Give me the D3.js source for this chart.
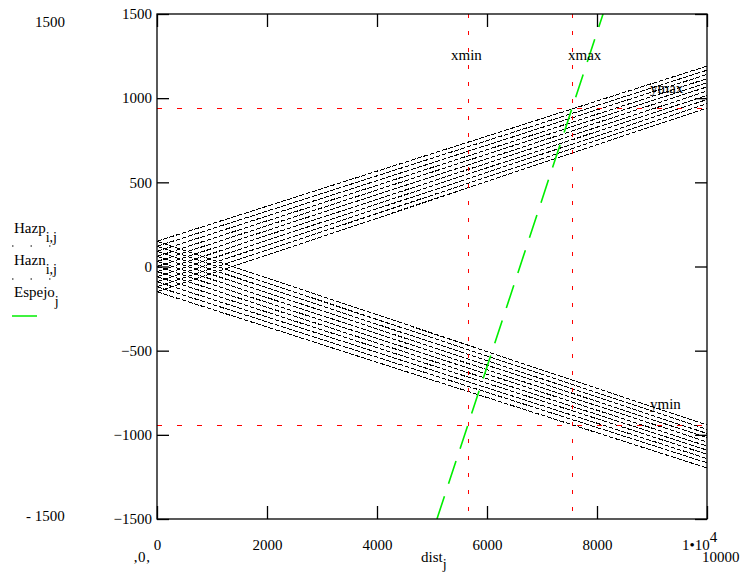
<!DOCTYPE html>
<html><head><meta charset="utf-8">
<script src="https://cdn.jsdelivr.net/npm/d3@7"></script>
<style>
body{margin:0;background:#fff;}
svg text{font-family:"Liberation Serif","Times New Roman","DejaVu Serif",serif !important;font-size:15px;fill:#000;}
</style></head>
<body>
<svg id="c" width="741" height="574"></svg>
<script>
// ---- data ----
const distRange = [0, 10000];
const xTicks = [0, 2000, 4000, 6000, 8000, 10000];
const yTicks = [-1500, -1000, -500, 0, 500, 1000, 1500];
// Hazp lines: value at dist 0 and at dist 10000
const hazpStart = [-150, -120, -90, -60, -30, 0, 30, 60, 90, 120, 150];
const hazpEnd   = [942, 967, 992, 1017, 1042, 1067, 1091, 1116, 1141, 1166, 1191];
// Hazn lines
const haznStart = [150, 120, 90, 60, 30, 0, -30, -60, -90, -120, -150];
const haznEnd   = [-942, -967, -992, -1017, -1042, -1067, -1091, -1116, -1141, -1166, -1197];
// Espejo (mirror) line
const espejoDist = [5090, 8110];
const espejoVal  = [-1500, 1500];
// limits
const xminVal = 5650, xmaxVal = 7540, ymaxVal = 940, yminVal = -940;

const FONT = '"Liberation Serif","Times New Roman","DejaVu Serif",serif';
const svg = d3.select("#c");
const L = 157, R = 707, T = 14, B = 519;
const x = d3.scaleLinear().domain([0, 10000]).range([L, R]);
const y = d3.scaleLinear().domain([-1500, 1500]).range([B, T]);

svg.append("defs").append("clipPath").attr("id","clip")
  .append("rect").attr("x",L).attr("y",T).attr("width",R-L).attr("height",B-T);
const g = svg.append("g").attr("clip-path","url(#clip)");

const line = d3.line().x(d=>x(d[0])).y(d=>y(d[1]));

// bands
hazpStart.forEach((v,i)=>{
  g.append("path").attr("d", line([[distRange[0], v],[distRange[1], hazpEnd[i]]]))
   .attr("fill","none").attr("stroke","#000").attr("stroke-width",1)
   .attr("stroke-dasharray","5,1.5").attr("shape-rendering","crispEdges");
});
haznStart.forEach((v,i)=>{
  g.append("path").attr("d", line([[distRange[0], v],[distRange[1], haznEnd[i]]]))
   .attr("fill","none").attr("stroke","#000").attr("stroke-width",1)
   .attr("stroke-dasharray","5,1.5").attr("shape-rendering","crispEdges");
});

// red limit lines
const red = "#ff0000";
const rx = v => Math.round(x(v)) + 0.5, ry = v => Math.round(y(v)) + 0.5;
g.append("line").attr("x1",L).attr("x2",R).attr("y1",ry(ymaxVal)).attr("y2",ry(ymaxVal))
 .attr("stroke",red).attr("stroke-dasharray","5,15").attr("shape-rendering","crispEdges");
g.append("line").attr("x1",L).attr("x2",R).attr("y1",ry(yminVal)).attr("y2",ry(yminVal))
 .attr("stroke",red).attr("stroke-dasharray","5,15").attr("shape-rendering","crispEdges");
g.append("line").attr("x1",rx(xminVal)).attr("x2",rx(xminVal)).attr("y1",T).attr("y2",B)
 .attr("stroke",red).attr("stroke-dasharray","4,13").attr("shape-rendering","crispEdges");
g.append("line").attr("x1",rx(xmaxVal)).attr("x2",rx(xmaxVal)).attr("y1",T).attr("y2",B)
 .attr("stroke",red).attr("stroke-dasharray","4,13").attr("shape-rendering","crispEdges");

// green mirror line
g.append("path").attr("d", line(espejoDist.map((d,i)=>[d, espejoVal[i]])))
 .attr("fill","none").attr("stroke","#00ee00").attr("stroke-width",1.6).attr("stroke-dasharray","24,13");

// frame
svg.append("rect").attr("x",L).attr("y",T).attr("width",R-L).attr("height",B-T)
  .attr("fill","none").attr("stroke","#000").attr("stroke-width",1.3);

// axes
const fmt = d => d3.format("")(d);
const ax = svg.append("g").attr("transform",`translate(0,${B})`)
  .call(d3.axisBottom(x).tickValues(xTicks).tickSize(-13).tickPadding(20).tickFormat(fmt));
const axT = svg.append("g").attr("transform",`translate(0,${T})`)
  .call(d3.axisTop(x).tickValues(xTicks).tickSize(-13).tickFormat(""));
const ay = svg.append("g").attr("transform",`translate(${L},0)`)
  .call(d3.axisLeft(y).tickValues(yTicks).tickSize(-12).tickPadding(4).tickFormat(fmt));
const ayR = svg.append("g").attr("transform",`translate(${R},0)`)
  .call(d3.axisRight(y).tickValues(yTicks).tickSize(-12).tickFormat(""));
[ax,axT,ay,ayR].forEach(a=>{
  a.attr("font-family",FONT).attr("font-size",15);
  a.select(".domain").remove();
  a.selectAll("line").attr("stroke","#000").attr("stroke-width",1.3);
  a.selectAll("text").attr("font-family",FONT).attr("font-size",15).attr("fill","#000");
});
ay.selectAll("text").attr("x",-5);
// last x tick label 1•10^4
ax.selectAll(".tick").filter(d=>d===10000).select("text").each(function(){
  const t = d3.select(this); t.text(null).attr("x",-8);
  t.append("tspan").text("1•10");
  t.append("tspan").attr("dy",-8).attr("font-size",15).text("4");
});

// outer labels
function txt(xp, yp, s, anchor){ return svg.append("text").attr("x",xp).attr("y",yp).attr("font-family",FONT).attr("font-size",15).attr("text-anchor",anchor||"start").text(s); }
txt(35, 27, "1500");
txt(26, 521, "- 1500");
txt(133, 562, "‚0‚");
txt(702, 562, "10000");
txt(451, 60, "xmin");
txt(568, 60, "xmax");
txt(650, 93, "ymax");
txt(650, 409, "ymin");
// dist_j
const dt = txt(421, 562, "dist");
dt.append("tspan").attr("dy",7).attr("font-size",14).text("j");

// legend
function sub(xp, yp, main, s){
  const t = txt(xp, yp, main);
  t.append("tspan").attr("dy",9).attr("font-size",14).text(s);
}
sub(14, 233, "Hazp", "i,j");
sub(14, 265, "Hazn", "i,j");
sub(14, 297, "Espejo", "j");
svg.append("line").attr("x1",12).attr("x2",60).attr("y1",246).attr("y2",246).attr("stroke","#000").attr("stroke-dasharray","1.5,17");
svg.append("line").attr("x1",12).attr("x2",60).attr("y1",279).attr("y2",279).attr("stroke","#000").attr("stroke-dasharray","1.5,17");
svg.append("line").attr("x1",12).attr("x2",37).attr("y1",316).attr("y2",316).attr("stroke","#00ee00").attr("stroke-width",1.5);
</script>
</body></html>
